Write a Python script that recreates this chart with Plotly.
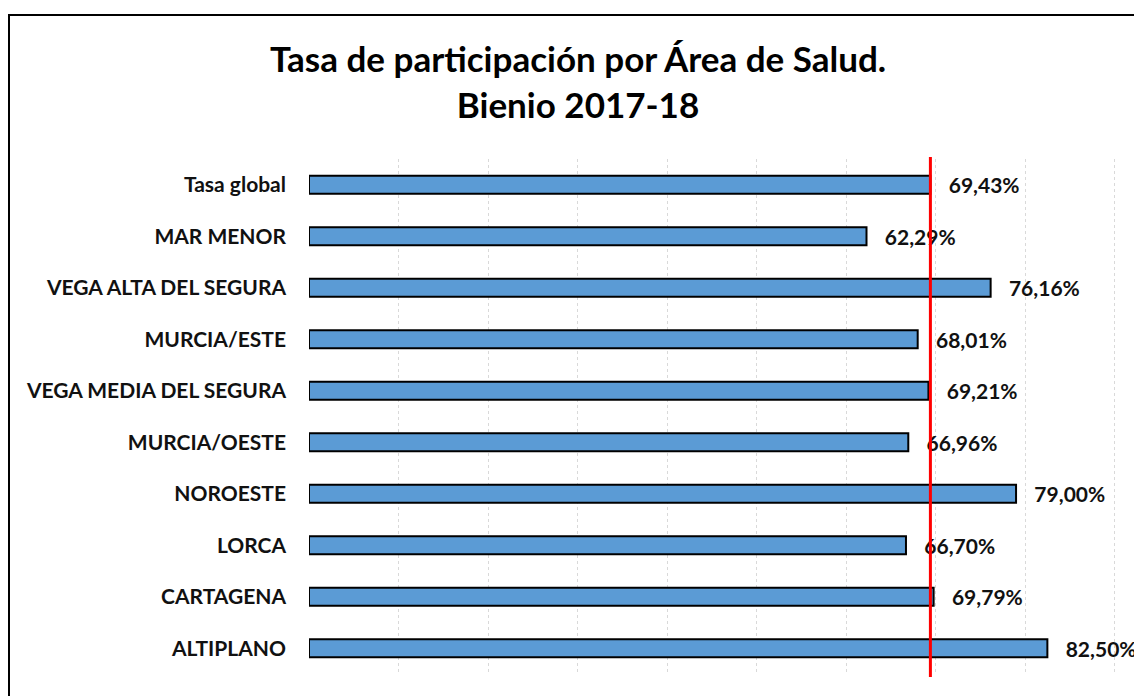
import plotly.graph_objects as go

areas = ["Tasa global", "MAR MENOR", "VEGA ALTA DEL SEGURA", "MURCIA/ESTE",
         "VEGA MEDIA DEL SEGURA", "MURCIA/OESTE", "NOROESTE", "LORCA",
         "CARTAGENA", "ALTIPLANO"]
rates = [69.43, 62.29, 76.16, 68.01, 69.21, 66.96, 79.00, 66.70, 69.79, 82.50]
global_rate = 69.43
title_text = "Tasa de participación por Área de Salud.<br>Bienio 2017-18"

labels = ["\u00a0\u00a0\u00a0" + f"{v:.2f}".replace(".", ",") + "%" for v in rates]

W, H = 1134, 696
L, R, T, B = 309, 0, 159, 22
FONT = "Lato"

fig = go.Figure()
fig.add_trace(go.Bar(
    y=areas, x=rates, orientation="h",
    marker=dict(color="#5B9BD5", line=dict(color="#000000", width=2)),
    text=labels, textposition="outside", cliponaxis=False, constraintext="none",
    textfont=dict(family=FONT, size=21, color="#111111", weight="bold"),
    hoverinfo="skip",
))

pw, ph = W - L - R, H - T - B
def px2x(p):
    return (p - L) / pw
def py2y(p):
    return (H - B - p) / ph

# outer frame
fig.add_shape(type="rect", xref="paper", yref="paper",
              x0=px2x(9), x1=px2x(W + 20), y0=py2y(H + 20), y1=py2y(15),
              line=dict(color="#000000", width=2), fillcolor="rgba(0,0,0,0)",
              layer="above")
# global rate reference line
fig.add_shape(type="line", xref="x", yref="paper",
              x0=global_rate, x1=global_rate, y0=py2y(677), y1=py2y(157),
              line=dict(color="#FF0000", width=3), layer="above")

fig.update_layout(
    width=W, height=H,
    margin=dict(l=L, r=R, t=T, b=B, pad=0),
    paper_bgcolor="white", plot_bgcolor="white",
    showlegend=False,
    bargap=0.65,
    title=dict(text=title_text, x=578 / W, xref="container", xanchor="center",
               y=1 - 72 / H, yref="container", yanchor="top",
               font=dict(family=FONT, size=35, color="#000000", weight="bold")),
    xaxis=dict(range=[0, (W - L) / 8.95], dtick=10, tick0=0,
               showgrid=True, gridcolor="#D9D9D9", griddash="dot", gridwidth=1,
               showticklabels=False, zeroline=False, showline=False, ticks=""),
    yaxis=dict(categoryorder="array", categoryarray=areas[::-1],
               tickfont=dict(family=FONT, size=21, color="#111111", weight="bold"),
               ticklabelstandoff=22, showgrid=False, zeroline=False,
               showline=False, ticks=""),
)

fig.write_html("out.html", config={"displayModeBar": False},
               post_script="document.body.style.margin='0px';")
